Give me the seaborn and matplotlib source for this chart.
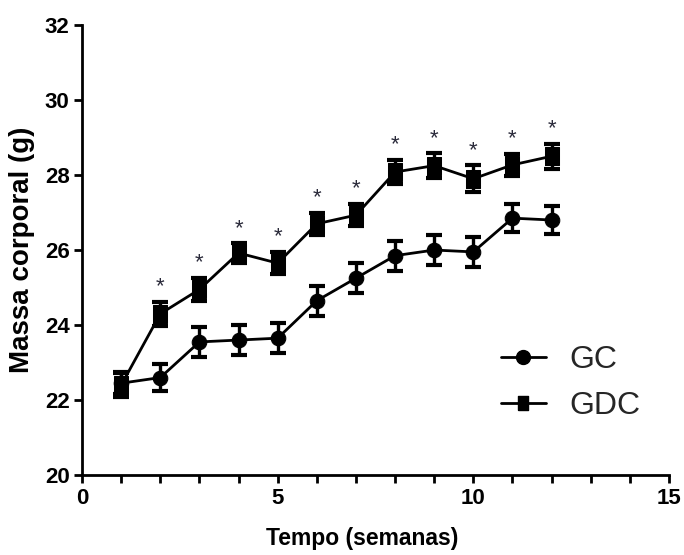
import matplotlib
matplotlib.use("Agg")
import matplotlib.pyplot as plt
import seaborn as sns
import pandas as pd
import numpy as np
from matplotlib.lines import Line2D

weeks = [1, 2, 3, 4, 5, 6, 7, 8, 9, 10, 11, 12]
gc_mean = [22.45, 22.6, 23.55, 23.6, 23.65, 24.65, 25.25, 25.85, 26.0, 25.95, 26.85, 26.8]
gc_sem = [0.3, 0.35, 0.4, 0.4, 0.4, 0.4, 0.4, 0.4, 0.4, 0.4, 0.37, 0.38]
gdc_mean = [22.4, 24.3, 24.95, 25.92, 25.65, 26.7, 26.93, 28.08, 28.25, 27.9, 28.27, 28.5]
gdc_sem = [0.32, 0.32, 0.3, 0.26, 0.3, 0.3, 0.3, 0.33, 0.33, 0.36, 0.3, 0.33]
signif_weeks = [2, 3, 4, 5, 6, 7, 8, 9, 10, 11, 12]
groups = ["GC", "GDC"]

sns.set_style("ticks")
plt.rcParams['font.family'] = ['Liberation Sans', 'DejaVu Sans']

df = pd.DataFrame({
    "week": weeks * 2,
    "mass": gc_mean + gdc_mean,
    "sem": gc_sem + gdc_sem,
    "group": [groups[0]] * len(weeks) + [groups[1]] * len(weeks),
})

fig = plt.figure(figsize=(6.84, 5.55), dpi=100)
ax = fig.add_axes([0.12, 0.144, 0.858, 0.811])

tall_square = [(-1, -1.35), (1, -1.35), (1, 1.35), (-1, 1.35), (-1, -1.35)]
markers = {"GC": "o", "GDC": tall_square}
msizes = {"GC": 10.5, "GDC": 13}
for g in groups:
    sub = df[df.group == g]
    ax.errorbar(sub.week, sub.mass, yerr=sub["sem"], fmt="none", ecolor="black",
                elinewidth=2.4, capsize=6, capthick=3, zorder=2)
    sns.lineplot(data=sub, x="week", y="mass", color="black",
                 marker=markers[g], linewidth=2, markersize=msizes[g],
                 markeredgecolor="black", ax=ax, legend=False, zorder=3)

# significance stars
gdc_df = df[df.group == "GDC"].set_index("week")
for w in signif_weeks:
    y = gdc_df.loc[w, "mass"] + gdc_df.loc[w, "sem"] + 0.12
    ax.text(w, y, "*", ha="center", va="bottom", fontsize=16, color="#2a2a3a")

ax.set_xlim(0, 15)
ax.set_ylim(20, 32)
ax.set_xticks([0, 5, 10, 15])
ax.set_xticks(range(0, 16), minor=True)
ax.set_yticks(range(20, 33, 2))
ax.tick_params(axis="both", which="both", direction="out", width=2, colors="black")
ax.tick_params(axis="both", which="major", length=6, labelsize=16, pad=3)
ax.tick_params(axis="x", which="minor", length=6)
for lab in ax.get_xticklabels() + ax.get_yticklabels():
    lab.set_fontweight("bold")
for s in ["left", "bottom"]:
    ax.spines[s].set_linewidth(2)
    ax.spines[s].set_color("black")
sns.despine(ax=ax)

ax.set_xlabel("Tempo (semanas)", fontsize=16.5, fontweight="bold", color="black")
ax.xaxis.set_label_coords(0.478, -0.115)
ax.set_ylabel("Massa corporal (g)", fontsize=20, fontweight="bold", labelpad=7, color="black")

handles = [Line2D([], [], color="black", marker=markers[g], markersize=10, linewidth=2)
           for g in groups]
ax.legend(handles, groups, loc="center left", bbox_to_anchor=(0.665, 0.205), frameon=False,
          fontsize=23, handlelength=1.4, labelspacing=0.5, handletextpad=0.75)

fig.savefig("out.png", dpi=100)
